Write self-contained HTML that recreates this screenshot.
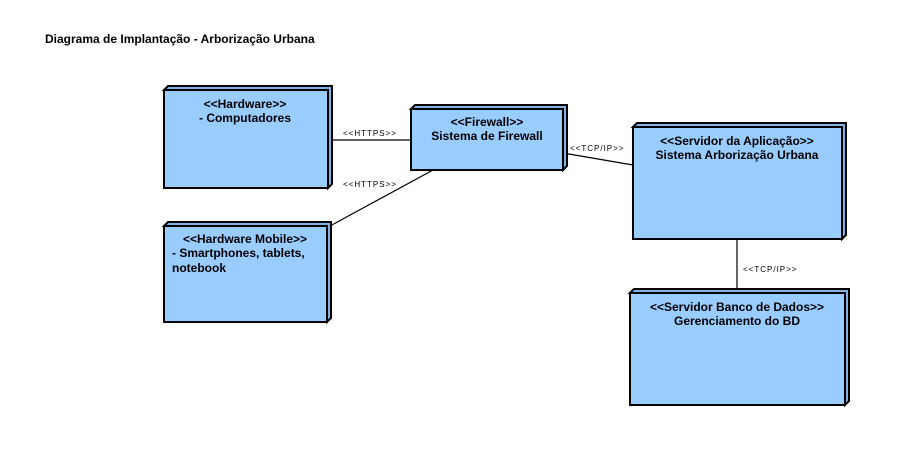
<!DOCTYPE html>
<html><head><meta charset="utf-8"><style>
html,body{margin:0;padding:0;background:#fff;}
svg{display:block;}
.n{font-family:"Liberation Sans",sans-serif;font-weight:bold;font-size:12px;fill:#000;}
.l{font-family:"Liberation Sans",sans-serif;font-size:8px;letter-spacing:1px;fill:#000;}
</style></head><body>
<svg width="903" height="456" viewBox="0 0 903 456" xmlns="http://www.w3.org/2000/svg">
<rect width="903" height="456" fill="#fff"/>
<text x="45" y="43" class="n">Diagrama de Implantação - Arborização Urbana</text>
<g stroke="#000" stroke-width="1.2" fill="none">
<line x1="328" y1="140" x2="411" y2="140"/>
<line x1="330" y1="226" x2="433" y2="170"/>
<line x1="563" y1="153" x2="633" y2="165"/>
<line x1="737" y1="239" x2="737" y2="293"/>
</g>
<g stroke="#000" stroke-width="2" fill="#99ccff" stroke-linejoin="miter">
<path d="M164,90 L168,86 L332,86 L332,184 L328,188 L328,90 Z" fill="#7fb2e5"/>
<rect x="164" y="90" width="164" height="98"/>
<path d="M164,226 L168,222 L331,222 L331,318 L327,322 L327,226 Z" fill="#7fb2e5"/>
<rect x="164" y="226" width="163" height="96"/>
<path d="M411,109 L415,105 L567,105 L567,166 L563,170 L563,109 Z" fill="#7fb2e5"/>
<rect x="411" y="109" width="152" height="61"/>
<path d="M633,127 L637,123 L846,123 L846,235 L842,239 L842,127 Z" fill="#7fb2e5"/>
<rect x="633" y="127" width="209" height="112"/>
<path d="M630,293 L634,289 L849,289 L849,401 L845,405 L845,293 Z" fill="#7fb2e5"/>
<rect x="630" y="293" width="215" height="112"/>
</g>
<text x="245" y="108" class="n" text-anchor="middle">&lt;&lt;Hardware&gt;&gt;</text>
<text x="245" y="122" class="n" text-anchor="middle">- Computadores</text>
<text x="245" y="243" class="n" text-anchor="middle">&lt;&lt;Hardware Mobile&gt;&gt;</text>
<text x="172" y="257" class="n">- Smartphones, tablets,</text>
<text x="172" y="272" class="n">notebook</text>
<text x="487" y="126" class="n" text-anchor="middle">&lt;&lt;Firewall&gt;&gt;</text>
<text x="487" y="140" class="n" text-anchor="middle">Sistema de Firewall</text>
<text x="737" y="145" class="n" text-anchor="middle">&lt;&lt;Servidor da Aplicação&gt;&gt;</text>
<text x="737" y="159" class="n" text-anchor="middle">Sistema Arborização Urbana</text>
<text x="737" y="311" class="n" text-anchor="middle">&lt;&lt;Servidor Banco de Dados&gt;&gt;</text>
<text x="737" y="325" class="n" text-anchor="middle">Gerenciamento do BD</text>
<text x="343" y="136" class="l">&lt;&lt;HTTPS&gt;&gt;</text>
<text x="343" y="187" class="l">&lt;&lt;HTTPS&gt;&gt;</text>
<text x="570" y="151" class="l">&lt;&lt;TCP/IP&gt;&gt;</text>
<text x="743" y="272" class="l">&lt;&lt;TCP/IP&gt;&gt;</text>
</svg>
</body></html>
